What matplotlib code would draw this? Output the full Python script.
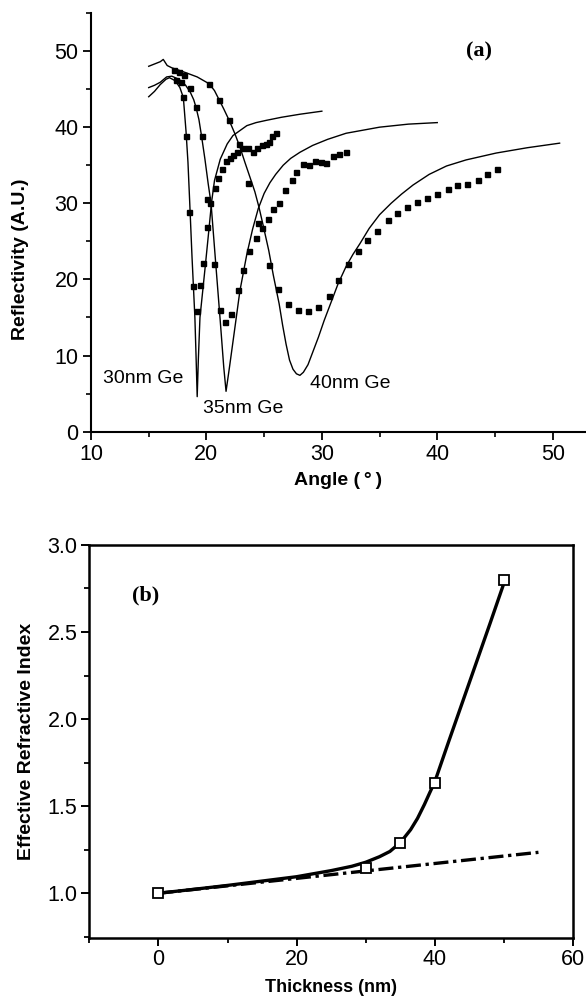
import matplotlib
matplotlib.use('agg')
import matplotlib.pyplot as plt
from matplotlib.ticker import MultipleLocator, FormatStrFormatter

plt.rcParams['font.family'] = ['Liberation Sans', 'DejaVu Sans']

# (a) measured reflectivity (squares)
meas30_angle = [17.19, 17.35, 17.94, 18.23, 18.51, 18.86, 19.15, 19.44, 19.72,
                20.07, 20.35, 20.74, 21.02, 21.37, 21.66, 22.03, 22.32, 22.61,
                23.19, 23.62, 24.05, 24.4, 24.78, 25.15, 25.44, 25.72, 26.0]
meas30_refl = [47.5, 46.2, 44.0, 38.8, 28.8, 19.1, 15.9, 19.3, 22.2,
               26.9, 30.0, 32.0, 33.3, 34.5, 35.5, 35.9, 36.3, 36.8,
               37.25, 37.2, 36.8, 37.25, 37.6, 37.8, 38.1, 38.9, 39.2]

meas35_angle = [17.65, 17.76, 18.57, 19.09, 19.58, 20.05, 20.64, 21.17, 21.65,
                22.17, 22.7, 23.19, 23.68, 24.29, 24.78, 25.3, 25.79, 26.3,
                26.8, 27.4, 27.8, 28.4, 28.9, 29.4, 29.97, 30.4, 30.98, 31.5,
                32.05]
meas35_refl = [47.3, 45.9, 45.2, 42.6, 38.8, 30.6, 22.0, 16.0, 14.4,
               15.4, 18.6, 21.3, 23.7, 25.5, 26.8, 27.95, 29.3, 30.0,
               31.7, 33.0, 34.1, 35.2, 35.0, 35.6, 35.4, 35.3, 36.2, 36.5,
               36.8]

meas40_angle = [18.05, 20.24, 21.1, 21.97, 22.84, 23.62, 24.5, 25.4, 26.22,
                27.1, 27.9, 28.8, 29.7, 30.6, 31.4, 32.3, 33.15, 33.9, 34.8,
                35.7, 36.55, 37.4, 38.25, 39.15, 40.0, 40.9, 41.75, 42.6,
                43.5, 44.3, 45.2]
meas40_refl = [46.8, 45.7, 43.6, 40.9, 37.8, 32.7, 27.4, 21.9, 18.8,
               16.8, 16.0, 15.9, 16.4, 17.8, 19.9, 22.0, 23.7, 25.2, 26.4,
               27.8, 28.7, 29.5, 30.2, 30.7, 31.2, 31.9, 32.4, 32.6,
               33.1, 33.8, 34.5]

# (a) calculated reflectivity (lines)
calc30_angle = [15.0, 15.5, 16.0, 16.5, 16.8, 17.3, 17.7, 18.0, 18.23, 18.4,
                18.55, 18.75, 19.0, 19.1, 19.2, 19.3, 19.44, 19.7, 19.93,
                20.2, 20.45, 20.7, 21.2, 21.8, 22.3, 23.5, 24.3, 25.2, 26.5,
                28.1, 30.0]
calc30_refl = [44.0, 44.7, 45.6, 46.3, 46.5, 46.1, 45.2, 43.9, 39.5, 35.4,
               30.2, 23.0, 15.0, 10.0, 4.6, 9.5, 15.0, 18.8, 22.2,
               26.3, 30.2, 33.0, 35.8, 37.8, 38.9, 40.2, 40.6, 40.9, 41.3,
               41.7, 42.1]

calc35_angle = [15.0, 15.5, 16.0, 16.55, 17.0, 17.6, 18.2, 18.6, 18.9, 19.1,
                19.35, 19.58, 19.87, 20.15, 20.4, 20.8, 21.2, 21.5, 21.7,
                22.0, 22.47, 22.9, 23.5, 24.0, 24.49, 25.0, 25.5, 26.0,
                26.65, 27.3, 28.1, 29.2, 30.5, 32.1, 35.0, 37.5, 40.0]
calc35_refl = [45.2, 45.5, 45.9, 46.6, 46.7, 46.3, 45.5, 44.6, 43.6, 42.6,
               41.0, 38.8, 35.8, 32.6, 30.0, 22.2, 14.5, 8.5, 5.3,
               8.5, 13.7, 18.5, 23.3, 26.6, 29.3, 31.3, 32.7, 33.8,
               35.0, 35.9, 36.7, 37.6, 38.4, 39.2, 40.0, 40.4, 40.6]

calc40_angle = [15.0, 15.5, 16.0, 16.26, 16.6, 17.0, 18.14, 19.2, 20.24, 20.7,
                21.1, 21.5, 21.97, 22.45, 22.9, 23.33, 23.8, 24.2, 24.55,
                24.9, 25.4, 25.79, 26.3, 26.6, 26.9, 27.2, 27.5, 27.8, 28.1,
                28.4, 28.8, 29.2, 29.7, 30.2, 30.7, 31.4, 32.1, 32.7, 33.3,
                34.1, 35.0, 36.0, 36.9, 37.9, 39.3, 40.8, 42.5, 45.1, 47.8,
                50.6]
calc40_refl = [48.0, 48.3, 48.6, 48.9, 48.1, 47.8, 47.2, 46.6, 45.7, 44.8,
               43.6, 42.4, 40.9, 39.2, 37.4, 35.4, 33.3, 31.5, 29.5,
               27.2, 23.8, 20.6, 16.8, 14.0, 11.5, 9.4, 8.2, 7.6, 7.4,
               7.8, 8.8, 10.4, 12.4, 14.6, 16.6, 19.4, 21.7, 23.3, 24.7,
               26.7, 28.5, 30.0, 31.2, 32.4, 33.8, 34.9, 35.7, 36.6, 37.3,
               37.9]

# (b) effective refractive index vs Ge thickness
thick_nm = [0, 30, 35, 40, 50]
n_eff = [1.0, 1.147, 1.29, 1.634, 2.80]
fit_nm = [0, 5, 10, 15, 20, 25, 28, 30, 32, 33.5, 34.6, 35.5, 36.5, 37.5,
          38.5, 39.3, 40, 42, 45, 48, 50]
fit_n = [1.0, 1.022, 1.045, 1.07, 1.095, 1.13, 1.155, 1.178, 1.21, 1.24,
         1.277, 1.315, 1.365, 1.43, 1.51, 1.58, 1.64, 1.87, 2.21, 2.55, 2.78]
linear_nm = [0, 55]
linear_n = [1.0, 1.235]

fig = plt.figure(figsize=(5.86, 9.99), dpi=100)

# ---- panel (a)
ax = fig.add_axes([0.1553, 0.5679, 0.843, 0.4191])
for a, r in [(calc30_angle, calc30_refl), (calc35_angle, calc35_refl),
             (calc40_angle, calc40_refl)]:
    ax.plot(a, r, color='black', lw=1.0)
for a, r in [(meas30_angle, meas30_refl), (meas35_angle, meas35_refl),
             (meas40_angle, meas40_refl)]:
    ax.plot(a, r, ls='none', marker='s', ms=3.6, color='black')
ax.set_xlim(10, 52.8)
ax.set_ylim(0, 55)
ax.spines['top'].set_visible(False)
ax.spines['right'].set_visible(False)
for s in ('left', 'bottom'):
    ax.spines[s].set_linewidth(1.5)
ax.xaxis.set_major_locator(MultipleLocator(10))
ax.xaxis.set_minor_locator(MultipleLocator(5))
ax.yaxis.set_major_locator(MultipleLocator(10))
ax.yaxis.set_minor_locator(MultipleLocator(5))
ax.tick_params(which='major', direction='out', length=6, width=1.3,
               labelsize=15.5, pad=3)
ax.tick_params(which='minor', direction='out', length=3.5, width=1.2)
ax.set_xlabel('Angle (\u2009°\u2009)', fontsize=14, fontweight='bold',
              labelpad=5)
ax.set_ylabel('Reflectivity (A.U.)', fontsize=14, fontweight='bold',
              labelpad=7)
ax.yaxis.set_label_coords(-0.125, 0.413)
ax.text(43.6, 50, '(a)', family='Liberation Serif', fontweight='bold',
        fontsize=16, ha='center', va='center')
ax.text(11.0, 7.0, '30nm Ge', fontsize=14, ha='left', va='center')
ax.text(19.7, 3.0, '35nm Ge', fontsize=14, ha='left', va='center')
ax.text(29.0, 6.3, '40nm Ge', fontsize=14, ha='left', va='center')

# ---- panel (b)
bx = fig.add_axes([0.1524, 0.0614, 0.8254, 0.3931])
bx.plot(fit_nm, fit_n, color='black', lw=2.4)
bx.plot(linear_nm, linear_n, color='black', lw=2.4,
        ls=(0, (4.5, 1.4, 1.0, 1.4)))
bx.plot(thick_nm, n_eff, ls='none', marker='s', ms=7, mfc='white',
        mec='black', mew=1.3)
bx.set_xlim(-10, 60)
bx.set_ylim(0.745, 3.0)
for s in bx.spines.values():
    s.set_linewidth(1.8)
bx.xaxis.set_major_locator(MultipleLocator(20))
bx.xaxis.set_minor_locator(MultipleLocator(10))
bx.yaxis.set_major_locator(MultipleLocator(0.5))
bx.yaxis.set_minor_locator(MultipleLocator(0.25))
bx.yaxis.set_major_formatter(FormatStrFormatter('%.1f'))
bx.tick_params(which='major', direction='out', length=5.5, width=1.4,
               labelsize=15.5, pad=3)
bx.tick_params(which='minor', direction='out', length=3.5, width=1.3)
bx.set_xlabel('Thickness (nm)', fontsize=13, fontweight='bold', labelpad=6)
bx.set_ylabel('Effective Refractive Index', fontsize=14, fontweight='bold',
              labelpad=9)
bx.text(-1.8, 2.71, '(b)', family='Liberation Serif', fontweight='bold',
        fontsize=16, ha='center', va='center')

fig.savefig('out.png', dpi=100)
